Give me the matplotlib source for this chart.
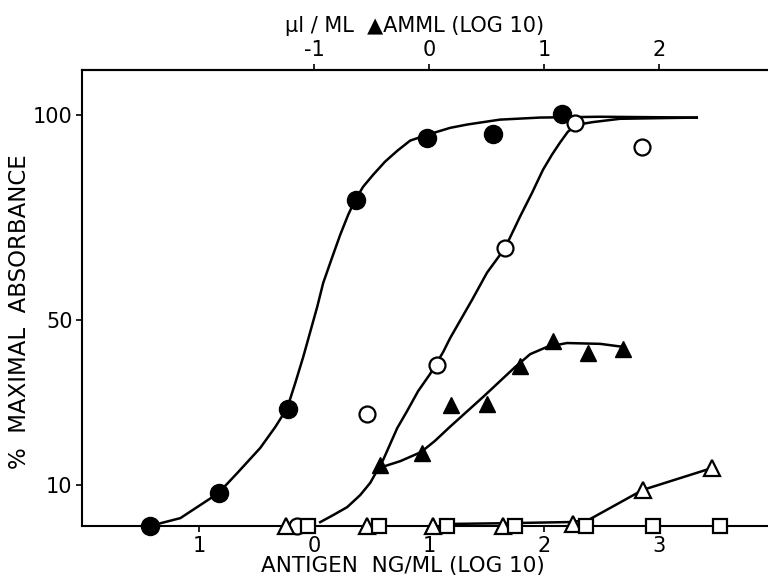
import matplotlib.pyplot as plt

plt.rcParams['font.family'] = ['Liberation Sans Narrow', 'DejaVu Sans']
plt.rcParams['axes.unicode_minus'] = False

# measured points (antigen log10 ng/ml, % maximal absorbance)
fc_x = [-1.43, -0.83, -0.23, 0.36, 0.98, 1.56, 2.16]
fc_y = [0, 8.0, 28.5, 79.3, 94.4, 95.4, 100.2]

oc_x = [-0.15, 0.46, 1.07, 1.66, 2.27, 2.85]
oc_y = [0, 27.3, 39.2, 67.6, 98.1, 92.2]

ft_x = [0.57, 0.94, 1.19, 1.50, 1.79, 2.08, 2.38, 2.69]
ft_y = [14.8, 17.8, 29.4, 29.7, 38.9, 45.0, 42.1, 43.1]

ot_x = [-0.25, 0.46, 1.03, 1.64, 2.25, 2.86, 3.46]
ot_y = [0, 0, 0, 0, 0.5, 8.8, 14.1]

os_x = [-0.05, 0.56, 1.16, 1.75, 2.37, 2.95, 3.53]
os_y = [0, 0, 0, 0, 0, 0, 0]

# hand drawn fitted curves
fc_curve_x = [-1.435, -1.165, -0.835, -0.67, -0.47, -0.339, -0.235, -0.165,
              -0.096, -0.035, 0.026, 0.078, 0.157, 0.226, 0.296, 0.357, 0.426,
              0.513, 0.617, 0.722, 0.835, 0.983, 1.183, 1.33, 1.617, 1.965,
              2.487, 3.33]
fc_curve_y = [0, 1.95, 8.0, 12.9, 19.0, 24.1, 28.7, 34.8,
              41.1, 47.2, 53.3, 59.1, 65.4, 70.8, 75.7, 79.3, 82.5,
              85.4, 88.6, 91.2, 93.7, 95.1, 96.8, 97.6, 98.8, 99.3,
              99.5, 99.3]

oc_curve_x = [0.052, 0.165, 0.287, 0.40, 0.487, 0.60, 0.722, 0.809, 0.904,
              1.009, 1.122, 1.183, 1.374, 1.504, 1.661, 1.791, 1.896, 1.991,
              2.07, 2.139, 2.209, 2.296, 2.426, 2.661, 3.33]
oc_curve_y = [0.97, 2.68, 4.62, 7.54, 10.5, 16.1, 23.8, 28.0, 32.8,
              37.0, 42.3, 45.7, 55.0, 61.6, 67.6, 75.2, 81.0, 86.6,
              90.3, 93.2, 95.9, 97.6, 98.2, 99.0, 99.3]

ft_curve_x = [0.56, 0.75, 0.93, 1.05, 1.18, 1.47, 1.75, 1.88, 2.03, 2.20,
              2.49, 2.68]
ft_curve_y = [14.1, 15.8, 18.0, 20.7, 24.1, 31.4, 38.7, 41.8, 43.6, 44.5,
              44.3, 43.6]

ot_curve_x = [1.10, 1.64, 2.25, 2.40, 2.86, 3.46]
ot_curve_y = [0.5, 0.7, 1.0, 1.7, 8.8, 14.1]

bottom_ticks = [-1, 0, 1, 2, 3]
bottom_labels = ['1', '0', '1', '2', '3']
top_ticks = [-1, 0, 1, 2]
y_ticks = [10, 50, 100]


def draw():
    fig = plt.figure(figsize=(7.68, 5.82), dpi=100)
    ax = fig.add_axes([0.107, 0.096, 0.893, 0.784])

    lw = 1.8
    ax.plot(fc_curve_x, fc_curve_y, color='black', lw=lw, clip_on=False)
    ax.plot(oc_curve_x, oc_curve_y, color='black', lw=lw, clip_on=False)
    ax.plot(ft_curve_x, ft_curve_y, color='black', lw=lw, clip_on=False)
    ax.plot(ot_curve_x, ot_curve_y, color='black', lw=lw, clip_on=False)

    ax.plot(fc_x, fc_y, 'o', ms=13, color='black', clip_on=False, zorder=3)
    ax.plot(oc_x, oc_y, 'o', ms=11.5, mfc='white', mec='black', mew=1.6,
            clip_on=False, zorder=3)
    ax.plot(ft_x, ft_y, '^', ms=12, color='black', clip_on=False, zorder=3)
    ax.plot(ot_x, ot_y, '^', ms=11, mfc='white', mec='black', mew=1.6,
            clip_on=False, zorder=3)
    ax.plot(os_x, os_y, 's', ms=10.5, mfc='white', mec='black', mew=1.6,
            clip_on=False, zorder=3)

    ax.set_xlim(-2.02, 3.95)
    ax.set_ylim(0, 110.9)
    ax.set_xticks(bottom_ticks)
    ax.set_xticklabels(bottom_labels)
    ax.set_yticks(y_ticks)

    ax.spines['right'].set_visible(False)
    for s in ['left', 'bottom', 'top']:
        ax.spines[s].set_linewidth(1.5)
    ax.tick_params(direction='out', length=4, width=1.2, labelsize=15, pad=3)

    top = ax.secondary_xaxis('top', functions=(lambda v: v - 1, lambda v: v + 1))
    top.set_xticks(top_ticks)
    top.tick_params(direction='out', length=4, width=1.2, labelsize=15, pad=3)
    top.spines['top'].set_linewidth(1.5)

    fig.text(0.54, 0.955, '\u00b5l / ML  \u25b2AMML (LOG 10)', ha='center',
             va='center', fontsize=15)
    fig.text(0.525, 0.028, 'ANTIGEN  NG/ML (LOG 10)', ha='center', va='center',
             fontsize=15.5)
    fig.text(0.026, 0.465, '%  MAXIMAL  ABSORBANCE', ha='center', va='center',
             rotation=90, fontsize=16.5)

    plt.savefig('out.png', dpi=100)


if __name__ == "__main__":
    draw()
